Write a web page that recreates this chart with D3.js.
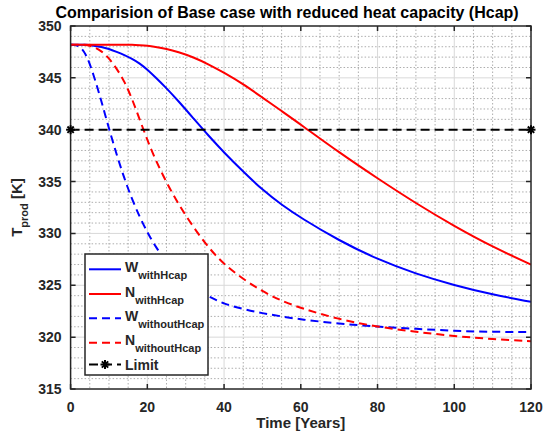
<!DOCTYPE html>
<html>
<head>
<meta charset="utf-8">
<script src="https://cdn.jsdelivr.net/npm/d3@7"></script>
<style>
  body { margin: 0; background: #fff; }
  svg text { font-family: "Liberation Sans", Arial, sans-serif; font-weight: bold; fill: #262626; }
</style>
</head>
<body>
<div id="chart"></div>
<script>
// time axis (years) shared by all series
var years = [0, 2, 4, 6, 8, 10, 12, 14, 16, 18, 20, 22, 25, 28, 32, 36, 40, 45, 50, 55, 60, 70, 80, 90, 100, 110, 120];

var wWithHcap    = [348.2, 348.2, 348.2, 348.1, 348.0, 347.8, 347.5, 347.2, 346.85, 346.4, 345.8, 345.1, 344.0, 342.8, 341.1, 339.4, 337.8, 335.95, 334.2, 332.75, 331.5, 329.3, 327.5, 326.1, 325.0, 324.1, 323.4];
var nWithHcap    = [348.2, 348.2, 348.2, 348.2, 348.2, 348.2, 348.2, 348.2, 348.2, 348.15, 348.1, 348.0, 347.8, 347.5, 347.0, 346.3, 345.5, 344.4, 343.1, 341.8, 340.5, 337.8, 335.3, 332.9, 330.7, 328.7, 327.0];
var wWithoutHcap = [348.2, 348.2, 347.4, 345.3, 342.8, 340.1, 337.6, 335.3, 333.3, 331.6, 330.1, 328.8, 327.2, 326.0, 324.8, 323.9, 323.2, 322.7, 322.3, 322.0, 321.7, 321.3, 321.0, 320.8, 320.6, 320.5, 320.5];
var nWithoutHcap = [348.2, 348.2, 348.2, 348.0, 347.6, 346.9, 345.9, 344.7, 343.0, 341.0, 339.0, 337.2, 334.9, 332.9, 330.6, 328.6, 327.0, 325.6, 324.4, 323.5, 322.8, 321.7, 321.0, 320.5, 320.1, 319.8, 319.6];

var limitYears = [0, 120];
var limitValue = [340, 340];

var xTicks = [0, 20, 40, 60, 80, 100, 120];
var yTicks = [315, 320, 325, 330, 335, 340, 345, 350];

var series = [
  {main: "W", sub: "withHcap",    values: wWithHcap,    color: "#0000ff", dash: null},
  {main: "N", sub: "withHcap",    values: nWithHcap,    color: "#ff0000", dash: null},
  {main: "W", sub: "withoutHcap", values: wWithoutHcap, color: "#0000ff", dash: "8,5"},
  {main: "N", sub: "withoutHcap", values: nWithoutHcap, color: "#ff0000", dash: "8,5"}
];

var W = 545, H = 443;
var pLeft = 70.6, pRight = 531, pTop = 26, pBottom = 389;

var svg = d3.select("#chart").append("svg")
  .attr("width", W)
  .attr("height", H);

var x = d3.scaleLinear().domain([0, 120]).range([pLeft, pRight]);
var y = d3.scaleLinear().domain([315, 350]).range([pBottom, pTop]);

// grid: minor dotted first, then major solid
var g = svg.append("g");
g.selectAll(".xminor").data(d3.range(5, 120, 5).filter(function(d){ return d % 20 != 0; }))
  .enter().append("line")
  .attr("x1", x).attr("x2", x).attr("y1", pTop).attr("y2", pBottom)
  .style("stroke", "#adadad").style("stroke-width", 1).style("stroke-dasharray", "1.5,2");
g.selectAll(".yminor").data(d3.range(316, 350, 1).filter(function(d){ return d % 5 != 0; }))
  .enter().append("line")
  .attr("y1", y).attr("y2", y).attr("x1", pLeft).attr("x2", pRight)
  .style("stroke", "#adadad").style("stroke-width", 1).style("stroke-dasharray", "1.5,2");
g.selectAll(".xmajor").data(xTicks.slice(1, -1))
  .enter().append("line")
  .attr("x1", x).attr("x2", x).attr("y1", pTop).attr("y2", pBottom)
  .style("stroke", "#d9d9d9").style("stroke-width", 1);
g.selectAll(".ymajor").data(yTicks.slice(1, -1))
  .enter().append("line")
  .attr("y1", y).attr("y2", y).attr("x1", pLeft).attr("x2", pRight)
  .style("stroke", "#d9d9d9").style("stroke-width", 1);

svg.append("clipPath").attr("id", "plotclip")
  .append("rect").attr("x", pLeft).attr("y", pTop).attr("width", pRight - pLeft).attr("height", pBottom - pTop);

var line = d3.line()
  .x(function(d, i){ return x(years[i]); })
  .y(function(d){ return y(d); })
  .curve(d3.curveBasis);

var plot = svg.append("g").attr("clip-path", "url(#plotclip)");
series.forEach(function(s) {
  plot.append("path")
    .attr("d", line(s.values))
    .style("fill", "none")
    .style("stroke", s.color)
    .style("stroke-width", 2)
    .style("stroke-dasharray", s.dash);
});

// limit line
var limitLine = d3.line()
  .x(function(d, i){ return x(limitYears[i]); })
  .y(function(d){ return y(d); });
svg.append("path")
  .attr("d", limitLine(limitValue))
  .style("fill", "none")
  .style("stroke", "#000")
  .style("stroke-width", 2)
  .style("stroke-dasharray", "9,5");

function asterisk(sel, cx, cy, r) {
  var a = sel.append("g").attr("transform", "translate(" + cx + "," + cy + ")");
  [[-r, 0, r, 0], [0, -r, 0, r], [-r*0.7, -r*0.7, r*0.7, r*0.7], [-r*0.7, r*0.7, r*0.7, -r*0.7]].forEach(function(p) {
    a.append("line").attr("x1", p[0]).attr("y1", p[1]).attr("x2", p[2]).attr("y2", p[3])
      .style("stroke", "#000").style("stroke-width", 2);
  });
}

// axes box with inward ticks on all sides
var axes = svg.append("g");
axes.append("rect")
  .attr("x", pLeft).attr("y", pTop).attr("width", pRight - pLeft).attr("height", pBottom - pTop)
  .style("fill", "none").style("stroke", "#262626").style("stroke-width", 1.5);
axes.selectAll(".xt").data(xTicks).enter().append("path")
  .attr("d", function(d){ return "M" + x(d) + "," + pBottom + "v-5M" + x(d) + "," + pTop + "v5"; })
  .style("stroke", "#262626").style("stroke-width", 1.5);
axes.selectAll(".yt").data(yTicks).enter().append("path")
  .attr("d", function(d){ return "M" + pLeft + "," + y(d) + "h5M" + pRight + "," + y(d) + "h-5"; })
  .style("stroke", "#262626").style("stroke-width", 1.5);

axes.selectAll(".xl").data(xTicks).enter().append("text")
  .attr("x", x).attr("y", 412)
  .attr("text-anchor", "middle")
  .style("font-size", "14px")
  .text(function(d){ return d; });
axes.selectAll(".yl").data(yTicks).enter().append("text")
  .attr("x", pLeft - 9).attr("y", function(d){ return y(d) + 5; })
  .attr("text-anchor", "end")
  .style("font-size", "14px")
  .text(function(d){ return d; });

limitYears.forEach(function(t, i) {
  asterisk(svg, x(t), y(limitValue[i]), 4.5);
});

// labels
svg.append("text")
  .attr("x", 287).attr("y", 18)
  .attr("text-anchor", "middle")
  .style("font-size", "16px")
  .style("fill", "#000")
  .text("Comparision of Base case with reduced heat capacity (Hcap)");

svg.append("text")
  .attr("x", (pLeft + pRight) / 2).attr("y", 428)
  .attr("text-anchor", "middle")
  .style("font-size", "15px")
  .text("Time [Years]");

var ylab = svg.append("text")
  .attr("transform", "translate(22," + ((pTop + pBottom) / 2) + ") rotate(-90)")
  .attr("text-anchor", "middle")
  .style("font-size", "15px");
ylab.append("tspan").text("T");
ylab.append("tspan").attr("dy", 6).style("font-size", "11px").text("prod");
ylab.append("tspan").attr("dy", -6).text(" [K]");

// legend
var lg = svg.append("g");
lg.append("rect")
  .attr("x", 85).attr("y", 254).attr("width", 123).attr("height", 121)
  .style("fill", "#fff").style("stroke", "#262626").style("stroke-width", 1.5);
var rowY = [269.3, 294, 318.3, 342.7];
series.forEach(function(s, i) {
  lg.append("line")
    .attr("x1", 89).attr("x2", 121).attr("y1", rowY[i]).attr("y2", rowY[i])
    .style("stroke", s.color).style("stroke-width", 2)
    .style("stroke-dasharray", s.dash);
  var t = lg.append("text").attr("x", 125).attr("y", rowY[i] + 2.5).style("font-size", "14px");
  t.append("tspan").text(s.main);
  t.append("tspan").attr("dy", 7).style("font-size", "11px").text(s.sub);
});
lg.append("line")
  .attr("x1", 89).attr("x2", 121).attr("y1", 364.5).attr("y2", 364.5)
  .style("stroke", "#000").style("stroke-width", 2).style("stroke-dasharray", "9,5");
asterisk(lg, 105, 364.5, 4.5);
lg.append("text").attr("x", 125).attr("y", 370).style("font-size", "14px").text("Limit");
</script>
</body>
</html>
